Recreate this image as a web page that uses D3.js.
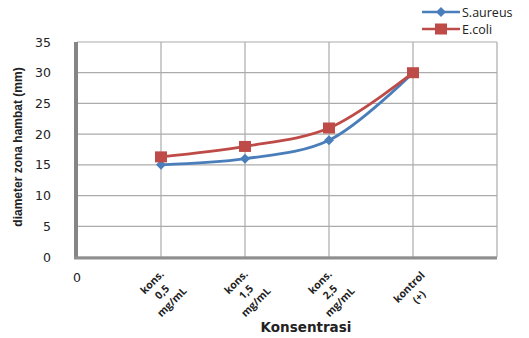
<!DOCTYPE html>
<html>
<head>
<meta charset="utf-8">
<script src="https://cdn.jsdelivr.net/npm/d3@7"></script>
<style>
  body { margin: 0; background: #fff; }
  svg { display: block; }
</style>
</head>
<body>
<div id="chart"></div>
<script>
// data
var categories = [["kons.", "0,5", "mg/mL"], ["kons.", "1,5", "mg/mL"], ["kons.", "2,5", "mg/mL"], ["kontrol", "(+)"]];
var catPos = [1, 2, 3, 4];
var sAureus = [15, 16, 19, 30];
var eColi = [16.3, 18, 21, 30];
var yTicks = [0, 5, 10, 15, 20, 25, 30, 35];
var xGrid = [0, 1, 2, 3, 4, 5];

var svgWidth = 529;
var svgHeight = 338;

var plot = { left: 77, right: 497, top: 42, bottom: 257 };

var svg = d3.select("#chart")
    .append("svg")
    .attr("width", svgWidth)
    .attr("height", svgHeight);

var xScale = d3.scaleLinear().domain([0, 5]).range([plot.left, plot.right]);
var yScale = d3.scaleLinear().domain([0, 35]).range([plot.bottom, plot.top]);

// gridlines
svg.append("g").selectAll("line")
    .data(yTicks)
    .enter()
    .append("line")
    .attr("x1", plot.left)
    .attr("x2", plot.right)
    .attr("y1", d => yScale(d))
    .attr("y2", d => yScale(d))
    .attr("stroke", "#ababab")
    .attr("stroke-width", 1.2);

svg.append("g").selectAll("line")
    .data(xGrid)
    .enter()
    .append("line")
    .attr("x1", d => xScale(d))
    .attr("x2", d => xScale(d))
    .attr("y1", plot.top)
    .attr("y2", plot.bottom)
    .attr("stroke", "#ababab")
    .attr("stroke-width", 1.2);

// thick "3D" walls left and bottom
svg.append("line")
    .attr("x1", plot.left - 1).attr("x2", plot.left - 1)
    .attr("y1", plot.top).attr("y2", plot.bottom + 2)
    .attr("stroke", "#858585").attr("stroke-width", 4);
svg.append("line")
    .attr("x1", plot.left - 3).attr("x2", plot.right)
    .attr("y1", plot.bottom + 1).attr("y2", plot.bottom + 1)
    .attr("stroke", "#8f8f8f").attr("stroke-width", 3);

// y axis tick labels
svg.append("g").selectAll("text")
    .data(yTicks)
    .enter()
    .append("text")
    .attr("x", 51)
    .attr("y", d => yScale(d))
    .attr("dy", "0.36em")
    .attr("text-anchor", "end")
    .attr("font-family", "DejaVu Sans")
    .attr("font-size", "12.5px")
    .attr("fill", "#222")
    .text(d => d);

// x "0" label
svg.append("text")
    .attr("x", xScale(0))
    .attr("y", 282)
    .attr("text-anchor", "middle")
    .attr("font-family", "DejaVu Sans")
    .attr("font-size", "12.5px")
    .attr("fill", "#222")
    .text("0");

// rotated category labels
var catLabels = svg.append("g").selectAll("text")
    .data(categories)
    .enter()
    .append("text")
    .attr("transform", (d, i) => `translate(${xScale(catPos[i]) + 1}, 292) rotate(-45)`)
    .attr("text-anchor", "middle")
    .attr("font-family", "Open Sans")
    .attr("font-weight", "bold")
    .attr("font-size", "10.5px")
    .attr("fill", "#222");

catLabels.each(function (d) {
    var t = d3.select(this);
    var lh = 14;
    var start = -(d.length - 1) * lh / 2;
    d.forEach((line, j) => {
        t.append("tspan")
            .attr("x", 0)
            .attr("y", start + j * lh)
            .attr("dy", "0.35em")
            .text(line);
    });
});

// axis titles
svg.append("text")
    .attr("transform", "translate(22, 147) rotate(-90)")
    .attr("text-anchor", "middle")
    .attr("font-family", "Liberation Sans Narrow, Liberation Sans")
    .attr("font-weight", "bold")
    .attr("font-size", "12px")
    .attr("fill", "#222")
    .text("diameter zona hambat (mm)");

svg.append("text")
    .attr("x", 306)
    .attr("y", 332)
    .attr("text-anchor", "middle")
    .attr("font-family", "DejaVu Sans")
    .attr("font-weight", "bold")
    .attr("font-size", "13.5px")
    .attr("fill", "#222")
    .text("Konsentrasi");

// lines
var lineGen = d3.line()
    .x((d, i) => xScale(catPos[i]))
    .y(d => yScale(d))
    .curve(d3.curveCatmullRom.alpha(0.5));

var series = [
    { name: "S.aureus", values: sAureus, color: "#4a7ebb", marker: "diamond" },
    { name: "E.coli", values: eColi, color: "#be4b48", marker: "square" }
];

series.forEach(s => {
    svg.append("path")
        .datum(s.values)
        .attr("d", lineGen)
        .attr("fill", "none")
        .attr("stroke", s.color)
        .attr("stroke-width", 2.8);
});

function drawMarker(g, type, color, x, y) {
    if (type === "diamond") {
        g.append("path")
            .attr("d", `M${x},${y - 5}L${x + 5},${y}L${x},${y + 5}L${x - 5},${y}Z`)
            .attr("fill", color);
    } else {
        g.append("rect")
            .attr("x", x - 6).attr("y", y - 5.5)
            .attr("width", 12).attr("height", 11)
            .attr("fill", color);
    }
}

var markerGroup = svg.append("g");
series.forEach(s => {
    s.values.forEach((v, i) => {
        drawMarker(markerGroup, s.marker, s.color, xScale(catPos[i]), yScale(v));
    });
});

// legend
var legend = svg.append("g");
series.forEach((s, i) => {
    var ly = 12 + i * 17;
    legend.append("line")
        .attr("x1", 422).attr("x2", 460)
        .attr("y1", ly).attr("y2", ly)
        .attr("stroke", s.color)
        .attr("stroke-width", 2.5);
    drawMarker(legend, s.marker, s.color, 441, ly);
    legend.append("text")
        .attr("x", 462)
        .attr("y", ly)
        .attr("dy", "0.36em")
        .attr("font-family", "Open Sans")
        .attr("font-size", "12.5px")
        .attr("fill", "#222")
        .text(s.name);
});
</script>
</body>
</html>
